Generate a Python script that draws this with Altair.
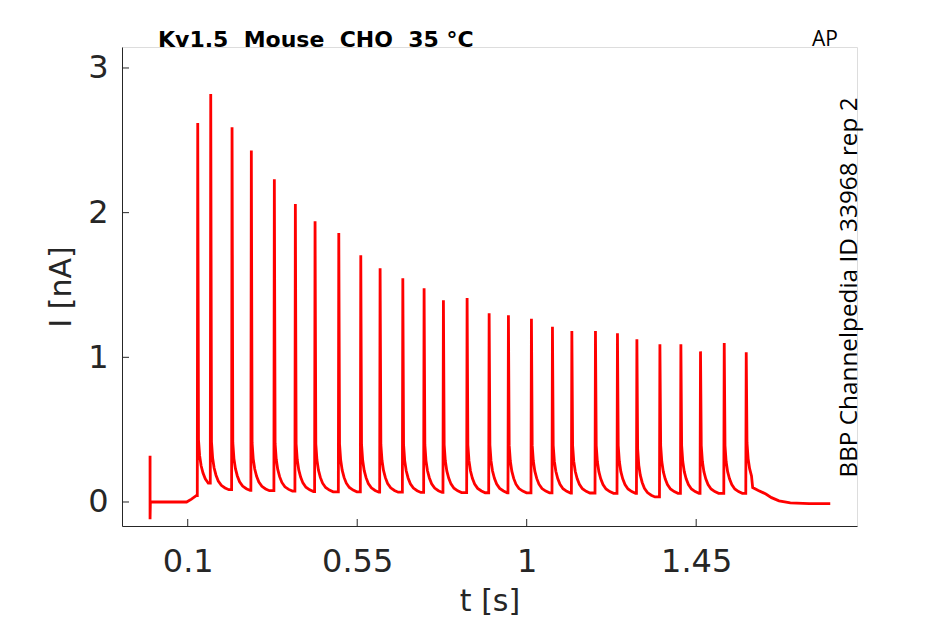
import altair as alt
import pandas as pd

# spike times (s) and peak currents (nA)
spike_t = [0.1266, 0.1611, 0.2177, 0.2689, 0.3300, 0.3858, 0.4381, 0.5011, 0.5595,
           0.6108, 0.6711, 0.7276, 0.7789, 0.8418, 0.9003, 0.9515, 1.0126, 1.0684,
           1.1199, 1.1826, 1.2410, 1.2926, 1.3537, 1.4094, 1.4615, 1.5245, 1.5829]
spike_peak = [2.62, 2.82, 2.59, 2.43, 2.23, 2.06, 1.94, 1.86, 1.705, 1.615, 1.546, 1.477,
              1.394, 1.410, 1.304, 1.290, 1.267, 1.212, 1.182, 1.182, 1.166, 1.124,
              1.090, 1.090, 1.041, 1.099, 1.035]
# current level reached just before the next spike
trough_after = [0.10, 0.085, 0.08, 0.078, 0.075, 0.072, 0.07, 0.07, 0.068, 0.068, 0.066,
                0.066, 0.065, 0.064, 0.064, 0.063, 0.063, 0.062, 0.062, 0.06, 0.06, 0.035,
                0.06, 0.06, 0.06, 0.06, 0.08]
# tail after each peak: delay (s) and height above the trough (nA)
tail_dt = [0.002, 0.005, 0.009, 0.014, 0.020, 0.028, 0.038, 0.048]
tail_rise = [0.33, 0.22, 0.15, 0.10, 0.06, 0.03, 0.012, 0.0]

# before the train and after it
pre_t = [0.0, 0.0, 0.0008, 0.05, 0.097, 0.110, 0.1235]
pre_i = [0.32, -0.12, 0.0, 0.0, 0.0, 0.02, 0.045]
post_t = [1.600, 1.615, 1.635, 1.650, 1.670, 1.700, 1.750, 1.806]
post_i = [0.10, 0.08, 0.055, 0.03, 0.008, -0.006, -0.012, -0.012]

x_ticks = [0.1, 0.55, 1, 1.45]
y_ticks = [0, 1, 2, 3]

rows = []
for t, v in zip(pre_t, pre_i):
    rows.append((t, v))
n = len(spike_t)
for k in range(n):
    tp = spike_t[k]
    rows.append((tp - 0.0012, rows[-1][1]))
    rows.append((tp, spike_peak[k]))
    nxt = spike_t[k + 1] if k + 1 < n else post_t[0]
    for dt, r in zip(tail_dt, tail_rise):
        if tp + dt < nxt - 0.002:
            rows.append((tp + dt, trough_after[k] + r))
for t, v in zip(post_t, post_i):
    rows.append((t, v))

df = pd.DataFrame(rows, columns=["t", "I"])
df["order"] = range(len(df))

W, H = 735, 479
xs = alt.Scale(domain=[-0.0745, 1.877], nice=False, zero=False)
ys = alt.Scale(domain=[-0.166, 3.145], nice=False, zero=False)
axis_common = dict(grid=False, ticks=False, domainColor="#262626", domainWidth=1,
                   labelColor="#262626", labelFont="DejaVu Sans", labelFontSize=32,
                   titleColor="#262626", titleFont="DejaVu Sans", titleFontSize=30,
                   titleFontWeight="normal")

trace = alt.Chart(df).mark_line(color="#ff0000", strokeWidth=2.8, clip=True).encode(
    x=alt.X("t:Q", scale=xs, title="t [s]",
            axis=alt.Axis(values=x_ticks, format=".2~f", labelPadding=20, titlePadding=9,
                          **axis_common)),
    y=alt.Y("I:Q", scale=ys, title="I [nA]",
            axis=alt.Axis(values=y_ticks, format="d", labelPadding=14, titlePadding=11,
                          **axis_common)),
    order="order:Q",
)

xt = alt.Chart(pd.DataFrame({"v": x_ticks})).mark_rule(color="#262626", strokeWidth=1).encode(
    x=alt.X("v:Q", scale=xs), y=alt.value(H), y2=alt.value(H - 7))
yt = alt.Chart(pd.DataFrame({"v": y_ticks})).mark_rule(color="#262626", strokeWidth=1).encode(
    y=alt.Y("v:Q", scale=ys), x=alt.value(0), x2=alt.value(7))

title = alt.Chart(pd.DataFrame({"s": ["Kv1.5\u00a0\u00a0Mouse\u00a0\u00a0CHO\u00a0\u00a035 °C"]})).mark_text(
    font="DejaVu Sans", fontSize=22, fontWeight="bold", color="#000000", align="left",
    baseline="alphabetic").encode(text="s:N", x=alt.value(36), y=alt.value(0))
ap = alt.Chart(pd.DataFrame({"s": ["AP"]})).mark_text(
    font="Open Sans", fontSize=21, color="#000000", align="center",
    baseline="alphabetic").encode(text="s:N", x=alt.value(703), y=alt.value(-1))
side = alt.Chart(pd.DataFrame({"s": ["BBP Channelpedia ID 33968 rep 2"]})).mark_text(
    font="Open Sans", fontSize=24.3, color="#000000", align="center", angle=270,
    baseline="middle").encode(text="s:N", x=alt.value(728), y=alt.value(240.5))

chart = alt.layer(trace, xt, yt, title, ap, side).properties(
    width=W, height=H, autosize="none",
    padding={"left": 114, "top": 39, "right": 80, "bottom": 97},
).configure_view(stroke=None).configure(background="white")

chart.save("out.html", embed_options={"renderer": "svg", "actions": False})
